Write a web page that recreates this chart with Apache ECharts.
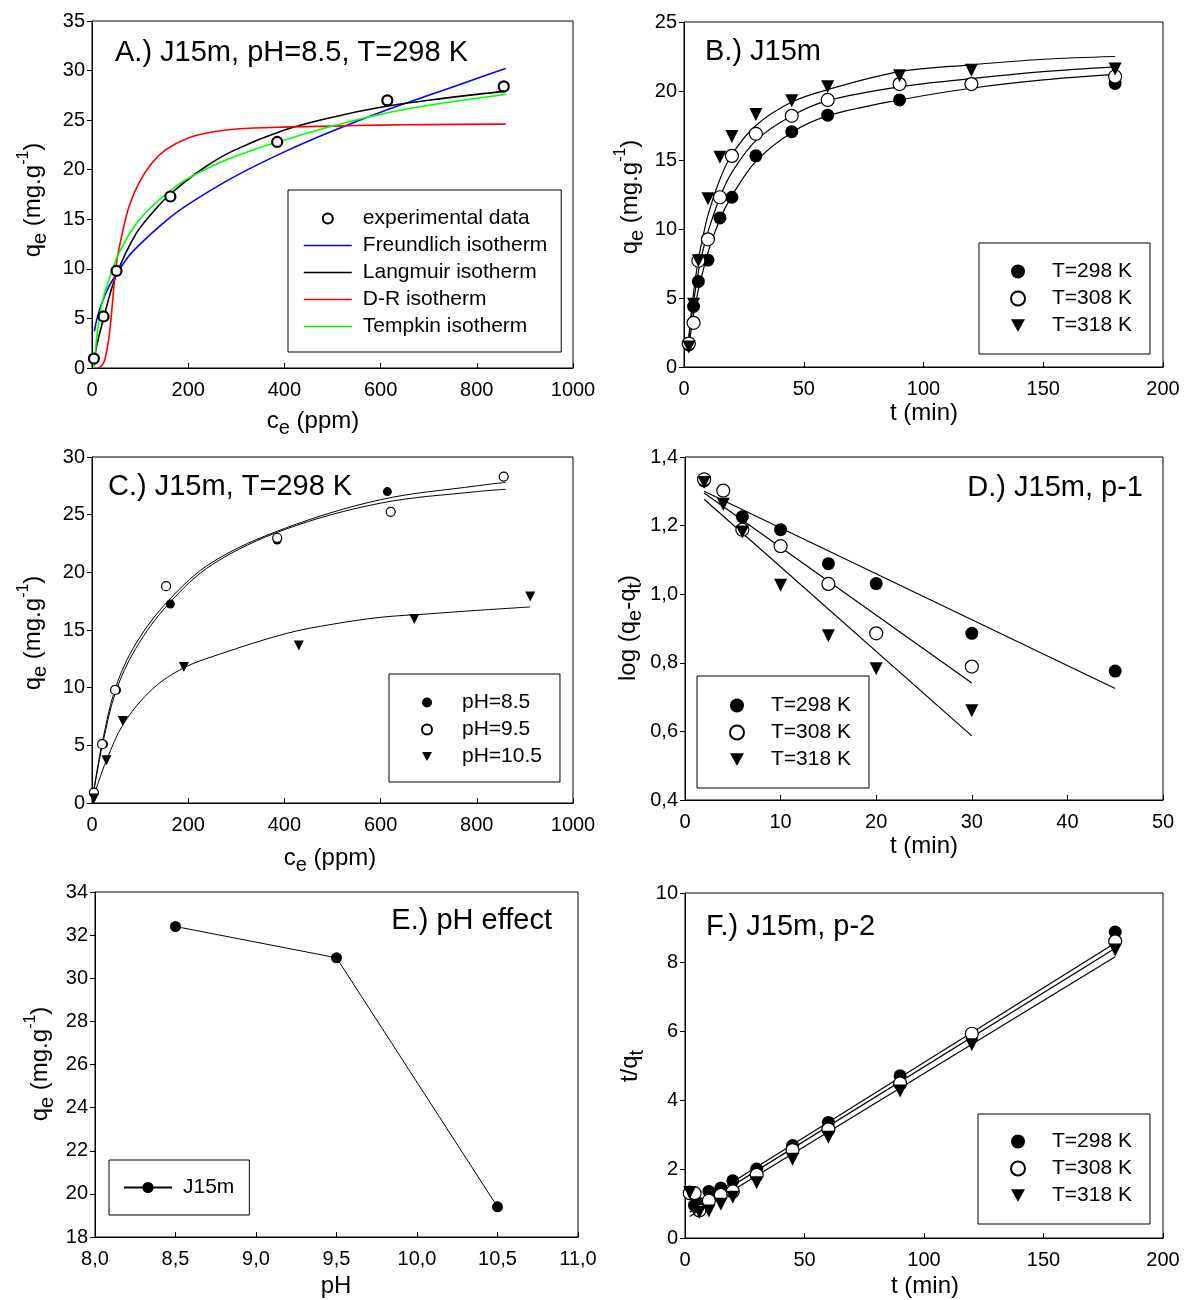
<!DOCTYPE html>
<html><head><meta charset="utf-8">
<script src="https://cdn.jsdelivr.net/npm/echarts@6/dist/echarts.min.js"></script>
<style>html,body{margin:0;padding:0;background:#fff}#c{width:1184px;height:1300px}</style>
</head><body><div id="c"></div>
<script>
// ---------- Panel A : isotherms, pH=8.5, T=298 K ----------
const aExpC = [4, 24, 51, 163, 385, 614, 856];
const aExpQ = [0.95, 5.2, 9.8, 17.3, 22.8, 27.0, 28.4];
const aFreC = [5, 10, 20, 35, 50, 75, 100, 150, 200, 300, 400, 500, 600, 700, 800, 860];
const aFreQ = [3.7, 4.9, 6.5, 8.2, 9.4, 11.2, 12.5, 14.7, 16.5, 19.4, 21.8, 23.9, 25.8, 27.5, 29.2, 30.2];
const aLanC = [4, 10, 24, 49, 91, 130, 164, 230, 293, 400, 500, 600, 700, 800, 860];
const aLanQ = [0.5, 2.3, 5.0, 9.2, 13.5, 15.9, 17.6, 20.1, 21.9, 24.0, 25.3, 26.3, 27.0, 27.6, 27.9];
const aDrC = [10, 17, 25, 30, 35, 40, 45, 52, 63, 77, 98, 125, 153, 200, 250, 300, 400, 500, 600, 700, 860];
const aDrQ = [0, 0.1, 0.6, 1.6, 3.0, 5.2, 7.9, 10.9, 13.6, 16.3, 18.7, 20.7, 22.0, 23.2, 23.8, 24.1, 24.3, 24.4, 24.5, 24.55, 24.6];
const aTemC = [4, 7, 10, 21, 38, 56, 91, 125, 160, 195, 265, 334, 400, 500, 600, 700, 800, 860];
const aTemQ = [0, 1.5, 3.2, 6.6, 9.3, 11.6, 14.5, 16.3, 17.8, 19.0, 20.7, 22.0, 23.0, 24.4, 25.6, 26.5, 27.2, 27.6];

// ---------- Panel B : kinetics q vs t ----------
const bT = [2, 4, 6, 10, 15, 20, 30, 45, 60, 90, 120, 180];
const b298 = [1.6, 4.4, 6.2, 7.75, 10.8, 12.3, 15.3, 17.05, 18.25, 19.35, 20.5, 20.55];
const b308 = [1.7, 3.2, 7.7, 9.25, 12.3, 15.3, 16.9, 18.2, 19.35, 20.5, 20.5, 21.05];
const b318 = [1.45, 4.55, 7.7, 12.2, 15.2, 16.7, 18.3, 19.3, 20.3, 21.1, 21.5, 21.6];
const bFitT = [2, 4, 6, 8, 10, 15, 20, 30, 45, 60, 90, 120, 150, 180];
const bFit298 = [1.5, 3.8, 5.6, 7.0, 8.3, 10.7, 12.4, 14.9, 17.0, 18.2, 19.35, 20.2, 20.8, 21.2];
const bFit308 = [2.0, 4.7, 6.9, 8.5, 9.8, 12.3, 14.1, 16.4, 18.2, 19.3, 20.3, 20.9, 21.4, 21.75];
const bFit318 = [2.2, 5.4, 7.8, 9.5, 11.0, 13.6, 15.4, 17.5, 19.2, 20.1, 21.4, 21.9, 22.3, 22.5];

// ---------- Panel C : isotherms at different pH ----------
const cC85 = [4, 24, 51, 163, 385, 614, 856];
const cQ85 = [0.9, 5.1, 9.8, 17.25, 22.8, 27.0, 28.3];
const cC95 = [4, 21, 48, 154, 385, 621, 856];
const cQ95 = [0.9, 5.1, 9.8, 18.8, 23.0, 25.25, 28.3];
const cC105 = [4, 30, 64, 191, 430, 670, 911];
const cQ105 = [0.4, 3.7, 7.1, 11.8, 13.65, 15.95, 17.9];
const cFitC = [3, 10, 22, 49, 91, 160, 251, 400, 600, 800, 860];
const cFit1 = [0.9, 2.7, 5.4, 10.0, 13.8, 17.6, 20.9, 23.8, 26.3, 27.5, 27.8];
const cFit2 = [0.8, 2.5, 5.1, 9.6, 13.4, 17.3, 20.7, 23.7, 26.0, 27.0, 27.2];
const cFit3C = [3, 15, 30, 66, 126, 190, 265, 404, 500, 600, 700, 800, 911];
const cFit3 = [0.5, 2.0, 3.7, 6.9, 9.9, 11.7, 12.9, 14.7, 15.5, 16.1, 16.4, 16.7, 17.0];

// ---------- Panel D : pseudo-first order ----------
const dT298 = [2, 6, 10, 15, 20, 30, 45];
const d298 = [1.33, 1.226, 1.188, 1.089, 1.031, 0.886, 0.776];
const dT308 = [2, 4, 6, 10, 15, 20, 30];
const d308 = [1.335, 1.302, 1.188, 1.14, 1.03, 0.886, 0.789];
const dT318 = [2, 4, 6, 10, 15, 20, 30];
const d318 = [1.326, 1.262, 1.181, 1.026, 0.879, 0.783, 0.660];
const dFit298T = [2, 45], dFit298 = [1.30, 0.725];
const dFit308T = [2, 30], dFit308 = [1.295, 0.741];
const dFit318T = [2, 30], dFit318 = [1.277, 0.587];

// ---------- Panel E : pH effect ----------
const ePH = [8.5, 9.5, 10.5];
const eQ = [32.4, 30.95, 19.4];

// ---------- Panel F : pseudo-second order ----------
const fT = [2, 4, 6, 10, 15, 20, 30, 45, 60, 90, 120, 180];
const f298 = [1.33, 0.95, 1.0, 1.35, 1.45, 1.66, 2.0, 2.68, 3.35, 4.7, 5.9, 8.87];
const f308 = [1.3, 1.3, 0.8, 1.08, 1.25, 1.35, 1.83, 2.55, 3.15, 4.48, 5.92, 8.6];
const f318 = [1.32, 0.85, 0.75, 0.78, 0.98, 1.18, 1.6, 2.28, 2.92, 4.26, 5.6, 8.35];
const fFitT = [2, 180];
const fFit298 = [0.85, 8.55], fFit308 = [0.75, 8.4], fFit318 = [0.62, 8.15];

// ---------- tick settings ----------
const ticksA = {x: [0, 1000, 200], y: [0, 35, 5]};
const ticksB = {x: [0, 200, 50], y: [0, 25, 5]};
const ticksC = {x: [0, 1000, 200], y: [0, 30, 5]};
const ticksD = {x: [0, 50, 10], y: [0.4, 1.4, 0.2]};
const ticksE = {x: [8, 11, 0.5], y: [18, 34, 2]};
const ticksF = {x: [0, 200, 50], y: [0, 10, 2]};

const FONT = '"Liberation Sans", Arial, sans-serif';
const zip = (xs, ys) => xs.map((x, i) => [x, ys[i]]);
const comma = d => v => v.toFixed(d).replace('.', ',');
const plain = v => String(Math.round(v * 1000) / 1000);
const TRI_DOWN = 'path://M0,0L10,0L5,9Z';

const grids = [
  {left: 92, top: 21, width: 481, height: 347},
  {left: 684, top: 22, width: 479, height: 345},
  {left: 92, top: 457, width: 481, height: 346},
  {left: 685, top: 457, width: 478, height: 343},
  {left: 95, top: 892, width: 483, height: 345},
  {left: 685, top: 893, width: 478, height: 345}
].map(g => Object.assign({show: true, borderColor: '#000', borderWidth: 1, containLabel: false}, g));

function xAx(gi, t, fmt) {
  return {type: 'value', gridIndex: gi, min: t[0], max: t[1], interval: t[2],
    axisLine: {show: true, onZero: false, lineStyle: {color: '#000', width: 1}},
    axisTick: {show: true, inside: true, length: 5, lineStyle: {color: '#000'}},
    axisLabel: {color: '#000', fontSize: 20, fontFamily: FONT, margin: 12, formatter: fmt || plain},
    splitLine: {show: false}};
}
function yAx(gi, t, fmt) {
  return {type: 'value', gridIndex: gi, min: t[0], max: t[1], interval: t[2],
    axisLine: {show: true, onZero: false, lineStyle: {color: '#000', width: 1}},
    axisTick: {show: true, inside: false, length: 5, lineStyle: {color: '#000'}},
    axisLabel: {color: '#000', fontSize: 20, fontFamily: FONT, margin: 7, formatter: fmt || plain},
    splitLine: {show: false}};
}

function scat(name, gi, xs, ys, kind, size) {
  const s = {type: 'scatter', name, xAxisIndex: gi, yAxisIndex: gi, data: zip(xs, ys),
    symbolSize: size, z: 5, itemStyle: {color: '#000', opacity: 1}};
  if (kind === 'open') { s.symbol = 'circle'; s.itemStyle = {color: '#fff', borderColor: '#000', borderWidth: 1.2, opacity: 1}; }
  else if (kind === 'open2') { s.symbol = 'circle'; s.itemStyle = {color: '#fff', borderColor: '#000', borderWidth: 2.2, opacity: 1}; }
  else if (kind === 'tri') { s.symbol = 'triangle'; s.symbolRotate = 180; }
  else s.symbol = 'circle';
  return s;
}
function curve(name, gi, xs, ys, color, width) {
  return {type: 'line', name, xAxisIndex: gi, yAxisIndex: gi, data: zip(xs, ys),
    symbol: 'none', smooth: 0.35, z: 3,
    lineStyle: {color, width}, itemStyle: {color, borderColor: color, borderWidth: width}};
}

const series = [
  // A
  curve('Freundlich isotherm', 0, aFreC, aFreQ, '#0000ff', 1.6),
  curve('Langmuir isotherm', 0, aLanC, aLanQ, '#000000', 1.6),
  curve('D-R isotherm', 0, aDrC, aDrQ, '#ff0000', 1.6),
  curve('Tempkin isotherm', 0, aTemC, aTemQ, '#00ff00', 1.6),
  scat('experimental data', 0, aExpC, aExpQ, 'open2', 10),
  // B
  curve('fitB298', 1, bFitT, bFit298, '#000', 1.2),
  curve('fitB308', 1, bFitT, bFit308, '#000', 1.2),
  curve('fitB318', 1, bFitT, bFit318, '#000', 1.2),
  scat('T=298 K', 1, bT, b298, 'filled', 13),
  scat('T=308 K', 1, bT, b308, 'open', 13),
  scat('T=318 K', 1, bT, b318, 'tri', 13),
  // C
  curve('fitC1', 2, cFitC, cFit1, '#000', 1),
  curve('fitC2', 2, cFitC, cFit2, '#000', 1),
  curve('fitC3', 2, cFit3C, cFit3, '#000', 1),
  scat('pH=8.5', 2, cC85, cQ85, 'filled', 9),
  scat('pH=9.5', 2, cC95, cQ95, 'open', 9),
  scat('pH=10.5', 2, cC105, cQ105, 'tri', 10),
  // D
  curve('fitD298', 3, dFit298T, dFit298, '#000', 1.2),
  curve('fitD308', 3, dFit308T, dFit308, '#000', 1.2),
  curve('fitD318', 3, dFit318T, dFit318, '#000', 1.2),
  scat('T=298 K', 3, dT298, d298, 'filled', 13),
  scat('T=308 K', 3, dT308, d308, 'open', 13),
  scat('T=318 K', 3, dT318, d318, 'tri', 13),
  // E
  {type: 'line', name: 'J15m', xAxisIndex: 4, yAxisIndex: 4, data: zip(ePH, eQ),
   symbol: 'circle', symbolSize: 11, showSymbol: true, z: 5,
   lineStyle: {color: '#000', width: 1}, itemStyle: {color: '#000', opacity: 1}},
  // F
  curve('fitF298', 5, fFitT, fFit298, '#000', 1.2),
  curve('fitF308', 5, fFitT, fFit308, '#000', 1.2),
  curve('fitF318', 5, fFitT, fFit318, '#000', 1.2),
  scat('T=298 K', 5, fT, f298, 'filled', 13),
  scat('T=308 K', 5, fT, f308, 'open', 13),
  scat('T=318 K', 5, fT, f318, 'tri', 13)
];

function leg(left, top, names, pad, opts) {
  return Object.assign({
    show: true, orient: 'vertical', left, top, data: names, padding: pad,
    backgroundColor: '#fff', borderColor: '#000', borderWidth: 1, borderRadius: 0,
    itemWidth: 14, itemHeight: 14, itemGap: 6, selectedMode: false,
    textStyle: {color: '#000', fontSize: 21, fontFamily: FONT, padding: [0, 0, 0, 22]},
    inactiveColor: '#000'
  }, opts || {});
}
const lineIcon = (name, color) => ({name, icon: 'line', itemStyle: {color, borderColor: color, borderWidth: 1.6}});
const tLegend = [{name: 'T=298 K'}, {name: 'T=308 K'}, {name: 'T=318 K', icon: TRI_DOWN}];

const legends = [
  leg(288, 190, [{name: 'experimental data', itemStyle: {color: '#fff', borderColor: '#000', borderWidth: 2}},
                 lineIcon('Freundlich isotherm', '#0000ff'), lineIcon('Langmuir isotherm', '#000000'),
                 lineIcon('D-R isotherm', '#ff0000'), lineIcon('Tempkin isotherm', '#00ff00')],
      [18, 14, 15, 15], {itemWidth: 48, itemHeight: 10, itemGap: 6, textStyle: {color: '#000', fontSize: 21, fontFamily: FONT, padding: [0, 0, 0, 6]}}),
  leg(979, 243, tLegend, [18, 18, 18, 31]),
  leg(389, 674, [{name: 'pH=8.5'}, {name: 'pH=9.5'}, {name: 'pH=10.5', icon: TRI_DOWN}], [18, 18, 15, 32],
      {itemWidth: 10, itemHeight: 10, itemGap: 6, textStyle: {color: '#000', fontSize: 21, fontFamily: FONT, padding: [0, 0, 0, 25]}}),
  leg(697, 676, tLegend, [19, 18, 18, 32]),
  leg(109, 1160, ['J15m'], [17, 15, 17, 14], {itemWidth: 48, textStyle: {color: '#000', fontSize: 21, fontFamily: FONT, padding: [0, 0, 0, 6]}}),
  leg(978, 1114, tLegend, [17, 18, 18, 32])
];

const rich = {
  a: {fontSize: 24, fontFamily: FONT, lineHeight: 34, verticalAlign: 'middle', fill: '#000'},
  s: {fontSize: 20, fontFamily: FONT, lineHeight: 20, verticalAlign: 'bottom', fill: '#000'},
  p: {fontSize: 16, fontFamily: FONT, lineHeight: 16, verticalAlign: 'top', fill: '#000'}
};
function axName(x, y, text, rotate) {
  return {type: 'text', x, y, rotation: rotate ? Math.PI / 2 : 0, z: 10,
    style: {text, rich, align: 'center', verticalAlign: 'middle', fill: '#000', font: '24px ' + FONT}};
}
function title(x, y, text, align) {
  return {type: 'text', x, y, z: 10,
    style: {text, align: align || 'left', verticalAlign: 'middle', fill: '#000', font: '29px ' + FONT}};
}

const graphics = [
  title(115, 53, 'A.) J15m, pH=8.5, T=298 K'),
  title(705, 52, 'B.) J15m'),
  title(108, 487, 'C.) J15m, T=298 K'),
  title(1143, 488, 'D.) J15m, p-1', 'right'),
  title(552, 921, 'E.) pH effect', 'right'),
  title(706, 927, 'F.) J15m, p-2'),
  axName(33, 200, '{a|q}{s|e}{a| (mg.g}{p|-1}{a|)}', true),
  axName(630, 197, '{a|q}{s|e}{a| (mg.g}{p|-1}{a|)}', true),
  axName(33, 633, '{a|q}{s|e}{a| (mg.g}{p|-1}{a|)}', true),
  axName(628, 628, '{a|log (q}{s|e}{a|-q}{s|t}{a|)}', true),
  axName(40, 1064, '{a|q}{s|e}{a| (mg.g}{p|-1}{a|)}', true),
  axName(630, 1066, '{a|t/q}{s|t}', true),
  axName(313, 421, '{a|c}{s|e}{a| (ppm)}', false),
  axName(924, 413, '{a|t (min)}', false),
  axName(330, 858, '{a|c}{s|e}{a| (ppm)}', false),
  axName(924, 846, '{a|t (min)}', false),
  axName(336, 1286, '{a|pH}', false),
  axName(925, 1286, '{a|t (min)}', false)
];

const chart = echarts.init(document.getElementById('c'), null, {renderer: 'canvas'});
chart.setOption({
  animation: false,
  backgroundColor: '#fff',
  grid: grids,
  xAxis: [xAx(0, ticksA.x), xAx(1, ticksB.x), xAx(2, ticksC.x), xAx(3, ticksD.x), xAx(4, ticksE.x, comma(1)), xAx(5, ticksF.x)],
  yAxis: [yAx(0, ticksA.y), yAx(1, ticksB.y), yAx(2, ticksC.y), yAx(3, ticksD.y, comma(1)), yAx(4, ticksE.y), yAx(5, ticksF.y)],
  legend: legends,
  series,
  graphic: graphics
});
</script></body></html>
